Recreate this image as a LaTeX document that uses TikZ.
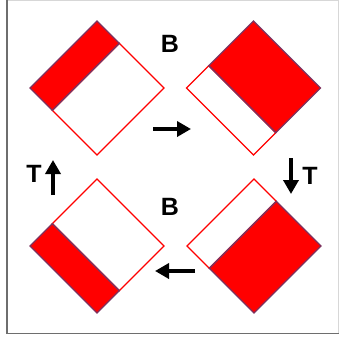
\documentclass[tikz,border=0pt]{standalone}
\usepackage{fontspec}
\setmainfont{Liberation Sans}
\usetikzlibrary{arrows.meta}
\definecolor{flagred}{RGB}{255,0,0}
\definecolor{flagedge}{RGB}{125,50,95}
\definecolor{framegray}{RGB}{110,110,110}
\definecolor{framelight}{RGB}{215,215,215}
\tikzset{
  redpart/.style={fill=flagred,draw=flagedge,line width=1.3pt},
  whitepart/.style={fill=white,draw=flagred,line width=1.3pt},
  moveline/.style={-{Triangle[length=14pt,width=15pt]},line width=4pt,black},
  turnlabel/.style={font=\fontsize{25}{25}\selectfont\bfseries,inner sep=0pt},
}

\begin{document}
\begin{tikzpicture}[x=1pt,y=-1pt]
  \useasboundingbox (0,0) rectangle (339,341);
  % Frame
  \draw[framelight,line width=1.2pt] (7,0.8) -- (338.4,0.8) -- (338.4,333.5);
  \draw[framegray,line width=1.6pt] (7,0) -- (7,333.5) -- (339,333.5);

  % Top left: red band on the upper left side
  \begin{scope}[shift={(97,88)}]
    \filldraw[whitepart] (-44.7,22.3) -- (0,67) -- (67,0) -- (22.3,-44.7) -- cycle;
    \filldraw[redpart] (-67,0) -- (0,-67) -- (22.3,-44.7) -- (-44.7,22.3) -- cycle;
  \end{scope}

  % Top right: white band on the lower left side
  \begin{scope}[shift={(253.5,88)}]
    \filldraw[whitepart] (-67,0) -- (-44.7,-22.3) -- (22.3,44.7) -- (0,67) -- cycle;
    \filldraw[redpart] (-44.7,-22.3) -- (0,-67) -- (67,0) -- (22.3,44.7) -- cycle;
  \end{scope}

  % Bottom left: red band on the lower left side
  \begin{scope}[shift={(97,246)}]
    \filldraw[whitepart] (-44.7,-22.3) -- (0,-67) -- (67,0) -- (22.3,44.7) -- cycle;
    \filldraw[redpart] (-67,0) -- (-44.7,-22.3) -- (22.3,44.7) -- (0,67) -- cycle;
  \end{scope}

  % Bottom right: white band on the upper left side
  \begin{scope}[shift={(254,246)}]
    \filldraw[whitepart] (-67,0) -- (0,-67) -- (22.3,-44.7) -- (-44.7,22.3) -- cycle;
    \filldraw[redpart] (-44.7,22.3) -- (0,67) -- (67,0) -- (22.3,-44.7) -- cycle;
  \end{scope}

  % Moves
  \coordinate (rightA) at (153,129);
  \coordinate (rightB) at (191,129);
  \coordinate (downA) at (291,158);
  \coordinate (downB) at (291,194);
  \coordinate (leftA) at (195,271);
  \coordinate (leftB) at (155,271);
  \coordinate (upA) at (53,195);
  \coordinate (upB) at (53,160);
  \draw[moveline] (rightA) -- (rightB);
  \draw[moveline] (downA) -- (downB);
  \draw[moveline] (leftA) -- (leftB);
  \draw[moveline] (upA) -- (upB);

  \node[turnlabel] (topB) at (170,43.5) {B};
  \node[turnlabel] (bottomB) at (170,207) {B};
  \node[turnlabel] (rightT) at (310,175.5) {T};
  \node[turnlabel] (leftT) at (34,174) {T};
\end{tikzpicture}
\end{document}
